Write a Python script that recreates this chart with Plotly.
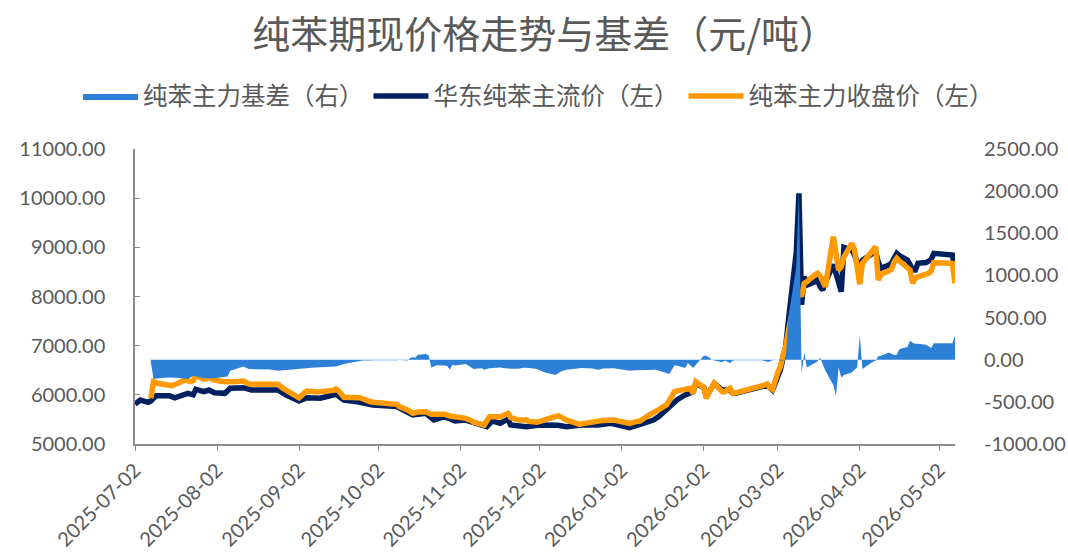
import plotly.graph_objects as go

# ---------------- data ----------------
spot_dates = [
    "2025-07-02", "2025-07-03", "2025-07-04", "2025-07-07", "2025-07-08", "2025-07-10", "2025-07-15",
    "2025-07-17", "2025-07-22", "2025-07-24", "2025-07-25", "2025-07-28", "2025-07-30", "2025-08-01",
    "2025-08-05", "2025-08-07", "2025-08-12", "2025-08-15", "2025-08-25", "2025-08-28", "2025-09-02",
    "2025-09-05", "2025-09-10", "2025-09-16", "2025-09-19", "2025-09-24", "2025-09-30", "2025-10-09",
    "2025-10-13", "2025-10-15", "2025-10-20", "2025-10-23", "2025-10-27", "2025-10-31", "2025-11-04",
    "2025-11-10", "2025-11-12", "2025-11-14", "2025-11-17", "2025-11-20", "2025-11-21", "2025-11-27",
    "2025-12-02", "2025-12-09", "2025-12-12", "2025-12-18", "2025-12-24", "2025-12-29", "2026-01-05",
    "2026-01-08", "2026-01-14", "2026-01-16", "2026-01-19", "2026-01-21", "2026-01-23", "2026-01-26",
    "2026-01-28", "2026-01-29", "2026-01-30", "2026-02-02", "2026-02-03", "2026-02-04", "2026-02-05",
    "2026-02-06", "2026-02-09", "2026-02-12", "2026-02-13", "2026-02-14", "2026-02-24", "2026-02-26",
    "2026-02-28", "2026-03-02", "2026-03-03", "2026-03-04", "2026-03-05", "2026-03-06", "2026-03-09",
    "2026-03-10", "2026-03-11", "2026-03-12", "2026-03-13", "2026-03-16", "2026-03-17", "2026-03-18",
    "2026-03-19", "2026-03-20", "2026-03-23", "2026-03-24", "2026-03-25", "2026-03-26", "2026-03-27",
    "2026-03-30", "2026-03-31", "2026-04-01", "2026-04-02", "2026-04-03", "2026-04-07", "2026-04-08",
    "2026-04-09", "2026-04-10", "2026-04-13", "2026-04-14", "2026-04-15", "2026-04-16", "2026-04-17",
    "2026-04-20", "2026-04-21", "2026-04-22", "2026-04-23", "2026-04-24", "2026-04-27", "2026-04-28",
    "2026-04-29", "2026-04-30", "2026-05-06", "2026-05-07", "2026-05-08",
]
spot_values = [
    5810, 5860, 5895, 5848, 5875, 5983, 5983,
    5940, 6030, 6000, 6112, 6064, 6098, 6043,
    6030, 6133, 6145, 6098, 6098, 6000, 5875,
    5940, 5930, 6010, 5895, 5860, 5793, 5760,
    5657, 5590, 5624, 5488, 5556, 5468, 5488,
    5386, 5352, 5468, 5419, 5508, 5386, 5352,
    5386, 5379, 5352, 5386, 5386, 5421, 5332,
    5386, 5488, 5560, 5700, 5800, 5900, 5997,
    6040, 6064, 6234, 6150, 5962, 6050, 6150,
    6234, 6098, 6098, 6030, 6030, 6170, 6200,
    6098, 6400, 6505, 6750, 6980, 7500, 8900,
    10100, 7830, 8403, 8234, 8300, 8336, 8200,
    8133, 8300, 8650, 8472, 8300, 8098, 9000,
    8950, 8845, 8700, 8641, 8740, 8880, 8912,
    8700, 8574, 8640, 8675, 8780, 8878, 8830,
    8743, 8650, 8540, 8540, 8675, 8690, 8709,
    8750, 8878, 8860, 8845, 8553,
]

fut_dates = [
    "2025-07-08", "2025-07-09", "2025-07-11", "2025-07-14", "2025-07-16", "2025-07-18", "2025-07-21",
    "2025-07-23", "2025-07-24", "2025-07-25", "2025-07-28", "2025-07-30", "2025-08-01", "2025-08-04",
    "2025-08-06", "2025-08-08", "2025-08-12", "2025-08-14", "2025-08-18", "2025-08-22", "2025-08-25",
    "2025-08-27", "2025-08-28", "2025-09-01", "2025-09-02", "2025-09-04", "2025-09-05", "2025-09-09",
    "2025-09-11", "2025-09-15", "2025-09-16", "2025-09-17", "2025-09-19", "2025-09-23", "2025-09-25",
    "2025-09-29", "2025-09-30", "2025-10-09", "2025-10-10", "2025-10-13", "2025-10-15", "2025-10-17",
    "2025-10-20", "2025-10-22", "2025-10-24", "2025-10-27", "2025-10-29", "2025-10-31", "2025-11-04",
    "2025-11-06", "2025-11-07", "2025-11-11", "2025-11-12", "2025-11-13", "2025-11-17", "2025-11-19",
    "2025-11-20", "2025-11-21", "2025-11-24", "2025-11-27", "2025-11-28", "2025-12-01", "2025-12-03",
    "2025-12-05", "2025-12-09", "2025-12-11", "2025-12-12", "2025-12-16", "2025-12-17", "2025-12-19",
    "2025-12-22", "2025-12-24", "2025-12-26", "2025-12-30", "2026-01-05", "2026-01-07", "2026-01-09",
    "2026-01-12", "2026-01-14", "2026-01-16", "2026-01-19", "2026-01-21", "2026-01-22", "2026-01-23",
    "2026-01-26", "2026-01-28", "2026-01-29", "2026-01-30", "2026-02-02", "2026-02-03", "2026-02-04",
    "2026-02-05", "2026-02-06", "2026-02-09", "2026-02-10", "2026-02-11", "2026-02-12", "2026-02-13",
    "2026-02-14", "2026-02-24", "2026-02-25", "2026-02-26", "2026-02-27", "2026-02-28", "2026-03-02",
    "2026-03-03", "2026-03-04", "2026-03-05", "2026-03-06", "2026-03-09", "2026-03-10", "2026-03-11",
    "2026-03-12", "2026-03-13", "2026-03-16", "2026-03-17", "2026-03-18", "2026-03-19", "2026-03-20",
    "2026-03-23", "2026-03-24", "2026-03-25", "2026-03-26", "2026-03-27", "2026-03-30", "2026-03-31",
    "2026-04-01", "2026-04-02", "2026-04-03", "2026-04-07", "2026-04-08", "2026-04-09", "2026-04-10",
    "2026-04-13", "2026-04-14", "2026-04-15", "2026-04-16", "2026-04-17", "2026-04-20", "2026-04-21",
    "2026-04-22", "2026-04-23", "2026-04-24", "2026-04-27", "2026-04-28", "2026-04-29", "2026-04-30",
    "2026-05-06", "2026-05-07", "2026-05-08",
]
fut_values = [
    5930, 6268, 6230, 6200, 6186, 6230, 6302,
    6268, 6290, 6404, 6316, 6349, 6300, 6270,
    6255, 6265, 6282, 6220, 6214, 6214, 6214,
    6130, 6098, 5960, 5940, 6040, 6078, 6060,
    6064, 6090, 6119, 6080, 5950, 5945, 5940,
    5860, 5850, 5807, 5759, 5692, 5624, 5650,
    5657, 5604, 5610, 5604, 5570, 5556, 5522,
    5480, 5441, 5386, 5500, 5556, 5556, 5600,
    5624, 5540, 5488, 5488, 5460, 5441, 5490,
    5509, 5576, 5520, 5488, 5420, 5400, 5420,
    5454, 5470, 5480, 5488, 5420, 5450, 5468,
    5580, 5657, 5700, 5800, 5950, 6064, 6080,
    6098, 6133, 6030, 6268, 6150, 5930, 6050,
    6150, 6234, 6064, 6064, 6100, 6133, 6030,
    6040, 6180, 6200, 6220, 6150, 6112, 6450,
    6573, 6800, 6980, 7300, 8065, 8080, 8000,
    8268, 8300, 8440, 8472, 8420, 8300, 8200,
    9217, 8800, 8540, 8600, 8800, 9082, 8950,
    8600, 8250, 8675, 8950, 9013, 8336, 8450,
    8520, 8560, 8700, 8777, 8720, 8600, 8540,
    8268, 8380, 8400, 8440, 8472, 8520, 8688,
    8675, 8670, 8268,
]

basis_dates = [
    "2025-07-08", "2025-07-09", "2025-07-11", "2025-07-15", "2025-07-18", "2025-07-22", "2025-07-24",
    "2025-07-28", "2025-08-01", "2025-08-05", "2025-08-06", "2025-08-07", "2025-08-12", "2025-08-14",
    "2025-08-19", "2025-08-22", "2025-08-25", "2025-08-28", "2025-09-02", "2025-09-05", "2025-09-08",
    "2025-09-12", "2025-09-16", "2025-09-19", "2025-09-24", "2025-09-26", "2025-09-29", "2025-09-30",
    "2025-10-09", "2025-10-10", "2025-10-13", "2025-10-14", "2025-10-15", "2025-10-16", "2025-10-17",
    "2025-10-20", "2025-10-21", "2025-10-22", "2025-10-23", "2025-10-24", "2025-10-27", "2025-10-28",
    "2025-10-29", "2025-10-30", "2025-10-31", "2025-11-03", "2025-11-04", "2025-11-06", "2025-11-07",
    "2025-11-10", "2025-11-11", "2025-11-13", "2025-11-17", "2025-11-19", "2025-11-21", "2025-11-24",
    "2025-11-26", "2025-11-28", "2025-12-01", "2025-12-03", "2025-12-04", "2025-12-08", "2025-12-10",
    "2025-12-12", "2025-12-15", "2025-12-18", "2025-12-22", "2025-12-24", "2025-12-26", "2025-12-29",
    "2025-12-30", "2025-12-31", "2026-01-05", "2026-01-07", "2026-01-12", "2026-01-15", "2026-01-20",
    "2026-01-22", "2026-01-23", "2026-01-26", "2026-01-27", "2026-01-29", "2026-02-02", "2026-02-03",
    "2026-02-04", "2026-02-05", "2026-02-09", "2026-02-10", "2026-02-12", "2026-02-13", "2026-02-14",
    "2026-02-24", "2026-02-26", "2026-02-27", "2026-02-28", "2026-03-02", "2026-03-03", "2026-03-04",
    "2026-03-05", "2026-03-06", "2026-03-09", "2026-03-10", "2026-03-11", "2026-03-12", "2026-03-13",
    "2026-03-16", "2026-03-17", "2026-03-18", "2026-03-19", "2026-03-20", "2026-03-23", "2026-03-24",
    "2026-03-25", "2026-03-26", "2026-03-27", "2026-03-30", "2026-03-31", "2026-04-01", "2026-04-02",
    "2026-04-03", "2026-04-07", "2026-04-08", "2026-04-09", "2026-04-10", "2026-04-13", "2026-04-14",
    "2026-04-15", "2026-04-16", "2026-04-17", "2026-04-20", "2026-04-21", "2026-04-22", "2026-04-23",
    "2026-04-24", "2026-04-27", "2026-04-28", "2026-04-29", "2026-04-30", "2026-05-06", "2026-05-07",
    "2026-05-08",
]
basis_values = [
    -30, -230, -220, -210, -215, -230, -190,
    -220, -220, -210, -200, -130, -80, -111,
    -111, -115, -130, -120, -110, -100, -91,
    -85, -80, -51, -24, -8, -8, -5,
    -5, -3, -10, 20, 30, 27, 60,
    68, 50, -91, -80, -65, -70, -75,
    -119, -60, -70, -60, -51, -90, -111,
    -100, -119, -100, -91, -100, -107, -107,
    -95, -99, -110, -140, -151, -182, -140,
    -119, -110, -99, -105, -119, -105, -99,
    -100, None, -130, -125, -123, -119, -170,
    -65, -71, -99, -40, -99, 48, 48,
    30, 0, -30, -10, -40, -10, -5,
    -5, -24, -20, -5, 0, -10, -10,
    0, 500, 1100, 2000, -167, 87, -91,
    -40, -20, 27, -60, -131, -300, -428,
    -91, -210, -180, -151, -120, -91, 285,
    -111, -24, -10, 40, 48, 87, 70,
    55, 60, 127, 150, 226, 200, 190,
    190, 178, 160, 139, 194, 194, 194,
    285,
]

x_tick_values = ["2025-07-02", "2025-08-02", "2025-09-02", "2025-10-02", "2025-11-02", "2025-12-02",
                 "2026-01-02", "2026-02-02", "2026-03-02", "2026-04-02", "2026-05-02"]
left_ticks = [5000, 6000, 7000, 8000, 9000, 10000, 11000]
right_ticks = [-1000, -500, 0, 500, 1000, 1500, 2000, 2500]

title_text = "纯苯期现价格走势与基差（元/吨）"
name_basis = "纯苯主力基差（右）"
name_spot = "华东纯苯主流价（左）"
name_fut = "纯苯主力收盘价（左）"

# ---------------- figure ----------------
GRAY = "#595959"
AXIS = "#8c8c8c"
CJK = "Noto Sans CJK SC"
NUM = "Lato, Noto Sans, sans-serif"

fig = go.Figure()
fig.add_trace(go.Scatter(
    x=basis_dates, y=basis_values, name=name_basis, yaxis="y2",
    mode="lines", fill="tozeroy", fillcolor="#2E80D6",
    line=dict(width=0, color="#2E80D6"), connectgaps=False,
))
fig.add_trace(go.Scatter(
    x=spot_dates, y=spot_values, name=name_spot, mode="lines",
    line=dict(color="#002060", width=5.5),
))
fig.add_trace(go.Scatter(
    x=fut_dates, y=fut_values, name=name_fut, mode="lines",
    line=dict(color="#FF9A00", width=5.5),
))

fig.update_layout(
    width=1068, height=553,
    margin=dict(l=135, r=113, t=149, b=109, autoexpand=False),
    paper_bgcolor="white", plot_bgcolor="white",
    title=dict(text=title_text, x=0.51, xanchor="center", y=1 - 35 / 553, yanchor="middle",
               font=dict(family=CJK, size=38, color=GRAY)),
    legend=dict(orientation="h", x=(78 - 135) / 820, xanchor="left", y=1 + 53 / 295, yanchor="middle",
                font=dict(family=CJK, size=24.5, color=GRAY), itemwidth=55,
                bgcolor="rgba(0,0,0,0)"),
    showlegend=True,
    xaxis=dict(
        type="date", range=["2025-07-02", "2026-05-08"], automargin=False,
        tickvals=x_tick_values, ticktext=x_tick_values, tickangle=-45,
        showgrid=False, zeroline=False, showline=True, linecolor=AXIS, linewidth=1.5,
        ticks="outside", ticklen=5, tickcolor=AXIS,
        tickfont=dict(family=NUM, size=20, color=GRAY),
    ),
    yaxis=dict(
        range=[5000, 11000], tickvals=left_ticks, ticktext=[f"{v:.2f}" for v in left_ticks],
        automargin=False, showgrid=False, zeroline=False, showline=True, linecolor=AXIS, linewidth=1.5,
        ticks="inside", ticklen=5, tickcolor=AXIS, ticklabelstandoff=24,
        tickfont=dict(family=NUM, size=20, color=GRAY),
    ),
    yaxis2=dict(
        range=[-1000, 2500], tickvals=right_ticks, ticktext=[f"{v:.2f}" for v in right_ticks],
        overlaying="y", side="right", showgrid=False, zeroline=False, showline=False,
        automargin=False, ticklabelstandoff=28,
        tickfont=dict(family=NUM, size=20, color=GRAY),
    ),
)

fig.write_html("out.html", config={"displayModeBar": False},
               post_script="document.body.style.margin='0';")
